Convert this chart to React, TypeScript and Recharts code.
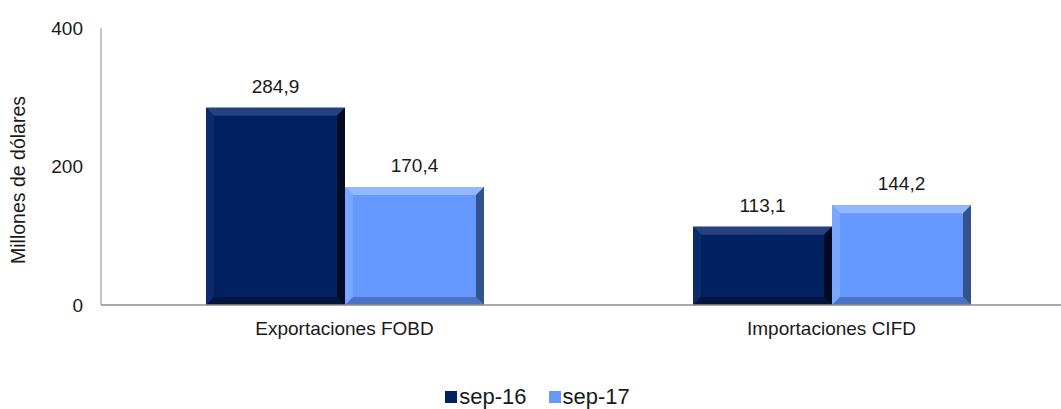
import React from 'react';
import { BarChart, Bar, XAxis, YAxis, Legend, LabelList } from 'recharts';

const categories = ['Exportaciones FOBD', 'Importaciones CIFD'];
const sep16 = [284.9, 113.1];
const sep17 = [170.4, 144.2];
const yTicks = [0, 200, 400];
const seriesNames = ['sep-16', 'sep-17'];

const data = categories.map((c, i) => ({ name: c, s16: sep16[i], s17: sep17[i] }));

const FONT = '"Liberation Sans", Arial, sans-serif';
const TEXT = '#1a1a1a';

type Pal = { main: string; top: string; left: string; right: string; bottom: string };
const pal16: Pal = { main: '#022161', top: '#23427f', left: '#0b2b6b', right: '#000a22', bottom: '#00163f' };
const pal17: Pal = { main: '#6699ff', top: '#93b8ff', left: '#7aa7ff', right: '#34528c', bottom: '#4c73c2' };

function makeBevel(p: Pal) {
  return (props: any) => {
    const { x, y, width, height } = props;
    if (!height || height <= 0) return <g />;
    const b = Math.min(8, width / 4, height / 4);
    const x2 = x + width;
    const y2 = y + height;
    return (
      <g>
        <rect x={x} y={y} width={width} height={height} fill={p.main} />
        <polygon points={`${x},${y} ${x2},${y} ${x2 - b},${y + b} ${x + b},${y + b}`} fill={p.top} />
        <polygon points={`${x},${y} ${x + b},${y + b} ${x + b},${y2 - b} ${x},${y2}`} fill={p.left} />
        <polygon points={`${x2},${y} ${x2},${y2} ${x2 - b},${y2 - b} ${x2 - b},${y + b}`} fill={p.right} />
        <polygon points={`${x},${y2} ${x + b},${y2 - b} ${x2 - b},${y2 - b} ${x2},${y2}`} fill={p.bottom} />
      </g>
    );
  };
}

const fmt = (v: any) => Number(v).toFixed(1).replace('.', ',');

const renderLegend = (props: any) => {
  const items = props.payload || [];
  return (
    <div
      style={{
        display: 'flex',
        justifyContent: 'center',
        alignItems: 'center',
        height: 24,
        fontFamily: FONT,
        fontSize: 22,
        color: TEXT,
      }}
    >
      {items.map((e: any, i: number) => (
        <span
          key={i}
          style={{ display: 'inline-flex', alignItems: 'center', marginRight: i === 0 ? 22 : 0 }}
        >
          <svg width={12} height={12} style={{ marginRight: 2 }}>
            <rect width={12} height={12} fill={e.color} />
          </svg>
          {e.value}
        </span>
      ))}
    </div>
  );
};

const YLabel = () => (
  <text
    x={18}
    y={180}
    transform="rotate(-90 18 180)"
    textAnchor="middle"
    dominantBaseline="central"
    fontFamily={FONT}
    fontSize={19.5}
    fill={TEXT}
  >
    Millones de dólares
  </text>
);

export default function App() {
  return (
    <div
      style={{
        position: 'absolute',
        left: 0,
        top: 0,
        width: 1061,
        height: 409,
        overflow: 'hidden',
        background: '#fff',
      }}
    >
      <BarChart
        width={1075}
        height={409}
        data={data}
        margin={{ top: 28, right: 0, bottom: 0, left: 0 }}
        barGap={0}
      >
        <XAxis
          dataKey="name"
          height={80}
          tickLine={false}
          tickSize={0}
          tickMargin={17}
          axisLine={{ stroke: '#8c8c8c', strokeWidth: 1.5 }}
          tick={{ fontFamily: FONT, fontSize: 19, fill: TEXT }}
        />
        <YAxis
          width={101}
          domain={[0, 400]}
          ticks={yTicks}
          tickLine={false}
          tickSize={0}
          tickMargin={18}
          axisLine={{ stroke: '#8c8c8c', strokeWidth: 1 }}
          tick={{ fontFamily: FONT, fontSize: 19, fill: TEXT }}
          label={<YLabel />}
        />
        <Legend verticalAlign="bottom" content={renderLegend} />
        <Bar
          dataKey="s16"
          name={seriesNames[0]}
          fill={pal16.main}
          barSize={139}
          shape={makeBevel(pal16)}
          isAnimationActive={false}
        >
          <LabelList
            dataKey="s16"
            position="top"
            offset={15}
            formatter={fmt}
            style={{ fontFamily: FONT, fontSize: 19, fill: TEXT }}
          />
        </Bar>
        <Bar
          dataKey="s17"
          name={seriesNames[1]}
          fill={pal17.main}
          barSize={139}
          shape={makeBevel(pal17)}
          isAnimationActive={false}
        >
          <LabelList
            dataKey="s17"
            position="top"
            offset={15}
            formatter={fmt}
            style={{ fontFamily: FONT, fontSize: 19, fill: TEXT }}
          />
        </Bar>
      </BarChart>
    </div>
  );
}
